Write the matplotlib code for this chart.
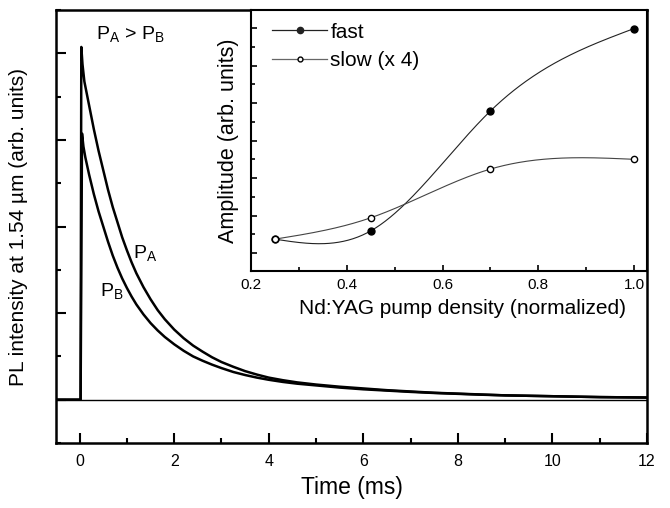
import numpy as np
import matplotlib
matplotlib.use("Agg")
import matplotlib.pyplot as plt
from matplotlib.ticker import MultipleLocator

plt.rcParams['font.family'] = ['Liberation Sans', 'DejaVu Sans']
plt.rcParams['mathtext.fontset'] = 'custom'
plt.rcParams['mathtext.rm'] = 'Liberation Sans'
plt.rcParams['mathtext.it'] = 'Liberation Sans'

# ---- main decay curves ----
t_A = [-0.5, 0.02, 0.035, 0.06, 0.1, 0.2, 0.3, 0.4, 0.5, 0.6, 0.7, 0.8, 0.9, 1.0,
       1.1, 1.2, 1.35, 1.5, 1.65, 1.8, 2.0, 2.2, 2.4, 2.6, 2.8, 3.0, 3.25, 3.5,
       3.75, 4.0, 4.3, 4.6, 5.0, 5.5, 6.0, 6.5, 7.0, 7.5, 8.0, 8.5, 9.0, 9.5,
       10.0, 10.5, 11.0, 11.5, 12.0]
v_A = [0, 0, 8.15, 7.75, 7.35, 6.8, 6.25, 5.75, 5.3, 4.85, 4.45, 4.1, 3.75, 3.45,
       3.17, 2.92, 2.6, 2.32, 2.07, 1.86, 1.62, 1.42, 1.25, 1.11, 0.98, 0.87, 0.76, 0.66,
       0.58, 0.51, 0.45, 0.40, 0.35, 0.30, 0.26, 0.22, 0.19, 0.16, 0.14, 0.12, 0.10, 0.09,
       0.08, 0.07, 0.06, 0.055, 0.05]
t_B = [-0.5, 0.02, 0.05, 0.08, 0.12, 0.2, 0.3, 0.4, 0.5, 0.6, 0.7, 0.8, 0.9, 1.0,
       1.1, 1.2, 1.35, 1.5, 1.65, 1.8, 2.0, 2.2, 2.4, 2.6, 2.8, 3.0, 3.25, 3.5,
       3.75, 4.0, 4.3, 4.6, 5.0, 5.5, 6.0, 6.5, 7.0, 7.5, 8.0, 8.5, 9.0, 9.5,
       10.0, 10.5, 11.0, 11.5, 12.0]
v_B = [0, 0, 6.15, 5.85, 5.6, 5.2, 4.75, 4.35, 4.0, 3.65, 3.33, 3.05, 2.8, 2.58,
       2.38, 2.2, 1.97, 1.77, 1.6, 1.45, 1.28, 1.13, 1.0, 0.9, 0.81, 0.73, 0.64, 0.57,
       0.51, 0.46, 0.41, 0.37, 0.33, 0.28, 0.24, 0.21, 0.18, 0.155, 0.135, 0.115, 0.10, 0.09,
       0.08, 0.07, 0.06, 0.055, 0.05]

x_ticks = [0, 2, 4, 6, 8, 10, 12]

# ---- inset data ----
pump = [0.25, 0.45, 0.70, 1.00]
fast = [0.37, 0.59, 3.79, 5.99]
slow = [0.37, 0.94, 2.24, 2.50]
inset_ticks = [0.2, 0.4, 0.6, 0.8, 1.0]
inset_ticklabels = ['0.2', '0.4', '0.6', '0.8', '1.0']


def natural_spline(x, y, xs):
    x = np.asarray(x, float); y = np.asarray(y, float)
    n = len(x); h = np.diff(x)
    A = np.zeros((n, n)); b = np.zeros(n)
    A[0, 0] = 1; A[-1, -1] = 1
    for i in range(1, n - 1):
        A[i, i - 1] = h[i - 1]; A[i, i] = 2 * (h[i - 1] + h[i]); A[i, i + 1] = h[i]
        b[i] = 6 * ((y[i + 1] - y[i]) / h[i] - (y[i] - y[i - 1]) / h[i - 1])
    M = np.linalg.solve(A, b)
    out = np.empty_like(xs)
    for k, xv in enumerate(xs):
        i = min(max(np.searchsorted(x, xv) - 1, 0), n - 2)
        a = x[i + 1] - xv; c = xv - x[i]
        out[k] = (M[i] * a**3 + M[i + 1] * c**3) / (6 * h[i]) + \
            (y[i] / h[i] - M[i] * h[i] / 6) * a + (y[i + 1] / h[i] - M[i + 1] * h[i] / 6) * c
    return out


fig = plt.figure(figsize=(6.7, 5.08), dpi=100)
ax = fig.add_axes([0.0836, 0.128, 0.8821, 0.852])
ax.axhline(0, color='black', lw=1.0, zorder=1)
ax.plot(t_B, v_B, color='black', lw=1.8, zorder=2)
ax.plot(t_A, v_A, color='black', lw=1.8, zorder=2)
ax.set_xlim(-0.5, 12)
ax.set_ylim(-1, 9)
ax.set_xticks(x_ticks)
ax.xaxis.set_minor_locator(MultipleLocator(1))
ax.yaxis.set_major_locator(MultipleLocator(2))
ax.yaxis.set_minor_locator(MultipleLocator(1))
ax.set_yticklabels([])
ax.tick_params(which='both', direction='in', top=False, right=False, width=1.5)
ax.tick_params(which='major', length=7, labelsize=11.5, pad=8)
ax.tick_params(which='minor', length=3.5)
for s in ax.spines.values():
    s.set_linewidth(1.8)
ax.set_xlabel('Time (ms)', fontsize=16.5)
ax.xaxis.set_label_coords(0.5008, -0.104)
ax.xaxis.label.set_va('center')
ax.set_ylabel('PL intensity at 1.54 µm (arb. units)', fontsize=15)
ax.yaxis.set_label_coords(-0.064, 0.5)
ax.yaxis.label.set_va('center')

ax.text(0.35, 8.45, r'$\mathrm{P_A}$ > $\mathrm{P_B}$', fontsize=14, ha='left', va='center')
ax.text(1.12, 3.4, r'$\mathrm{P_A}$', fontsize=14, ha='left', va='center')
ax.text(0.42, 2.5, r'$\mathrm{P_B}$', fontsize=14, ha='left', va='center')

# ---- inset ----
ins = fig.add_axes([0.3746, 0.4665, 0.5911, 0.5135])
xs = np.linspace(0.25, 1.0, 300)
ins.plot(xs, natural_spline(pump, fast, xs), color='#222222', lw=0.8)
ins.plot(xs, natural_spline(pump, slow, xs), color='#444444', lw=0.8)
ins.plot(pump, fast, 'o', color='black', ms=5, zorder=3)
ins.plot(pump, slow, 'o', mfc='white', mec='black', mew=1.0, ms=4.5, zorder=3)
ins.plot([], [], '-o', color='#222222', lw=0.9, ms=4.5, label='fast')
ins.plot([], [], '-o', color='#666666', mfc='white', mec='black', lw=0.9, ms=3.5, label='slow (x 4)')
ins.legend(loc='upper left', bbox_to_anchor=(0.053, 0.952), frameon=False, fontsize=15,
           handlelength=2.65, borderaxespad=0, borderpad=0, handletextpad=0.15,
           labelspacing=0.44)
ins.set_xlim(0.2, 1.027)
ins.set_ylim(-0.48, 6.48)
ins.set_xticks(inset_ticks)
ins.set_xticklabels(inset_ticklabels)
ins.xaxis.set_minor_locator(MultipleLocator(0.1))
ins.yaxis.set_major_locator(MultipleLocator(1))
ins.yaxis.set_minor_locator(MultipleLocator(0.5))
ins.set_yticklabels([])
ins.tick_params(which='both', direction='in', top=False, right=False, width=1.2)
ins.tick_params(which='major', length=4.5, labelsize=11, pad=5)
ins.tick_params(which='minor', length=3)
for s in ins.spines.values():
    s.set_linewidth(1.5)
ins.set_xlabel('Nd:YAG pump density (normalized)', fontsize=15)
ins.xaxis.set_label_coords(0.534, -0.142)
ins.xaxis.label.set_va('center')
ins.set_ylabel('Amplitude (arb. units)', fontsize=15.5)
ins.yaxis.set_label_coords(-0.058, 0.5)
ins.yaxis.label.set_va('center')

fig.savefig('out.png', dpi=100)
